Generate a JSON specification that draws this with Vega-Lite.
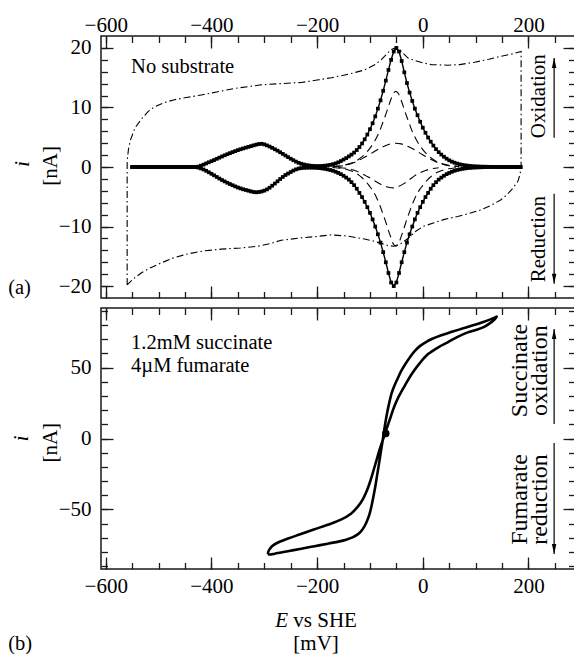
{
"$schema": "https://vega.github.io/schema/vega-lite/v6.json",
"background": "white",
"padding": {"left": 7, "top": 13, "right": 0, "bottom": 0},
"bounds": "flush",
"spacing": 10,
"config": {
  "view": {"stroke": "#1a1a1a", "strokeWidth": 1.5},
  "axis": {"grid": false, "domain": false, "tickColor": "#1a1a1a", "tickWidth": 1.3, "labelFont": "Liberation Serif, Times New Roman, serif", "labelFontSize": 21, "labelColor": "#000", "labelOverlap": false, "labelFlush": false, "labelBound": false},
  "text": {"font": "Liberation Serif, Times New Roman, serif", "color": "#000"}
},
"datasets": {
  "mainA": [
    {"b":"u","E":-550,"i":0},{"b":"u","E":-545,"i":0},{"b":"u","E":-540,"i":0},{"b":"u","E":-535,"i":0},{"b":"u","E":-530,"i":0},{"b":"u","E":-525,"i":0},{"b":"u","E":-520,"i":0},{"b":"u","E":-515,"i":0},{"b":"u","E":-510,"i":0},{"b":"u","E":-505,"i":0},{"b":"u","E":-500,"i":0},{"b":"u","E":-495,"i":0},{"b":"u","E":-490,"i":0},{"b":"u","E":-485,"i":0},{"b":"u","E":-480,"i":0},{"b":"u","E":-475,"i":0},{"b":"u","E":-470,"i":0},{"b":"u","E":-465,"i":0},{"b":"u","E":-460,"i":0},{"b":"u","E":-455,"i":0},{"b":"u","E":-450,"i":0},{"b":"u","E":-445,"i":0},{"b":"u","E":-440,"i":0},{"b":"u","E":-435,"i":0},{"b":"u","E":-430,"i":0},
    {"b":"u","E":-425,"i":0.06},{"b":"u","E":-420,"i":0.22},{"b":"u","E":-415,"i":0.4},{"b":"u","E":-410,"i":0.6},{"b":"u","E":-405,"i":0.79},{"b":"u","E":-400,"i":0.98},{"b":"u","E":-395,"i":1.17},{"b":"u","E":-390,"i":1.37},{"b":"u","E":-385,"i":1.57},{"b":"u","E":-380,"i":1.77},{"b":"u","E":-375,"i":1.96},{"b":"u","E":-370,"i":2.15},{"b":"u","E":-365,"i":2.33},{"b":"u","E":-360,"i":2.5},{"b":"u","E":-355,"i":2.67},{"b":"u","E":-350,"i":2.83},{"b":"u","E":-345,"i":2.98},{"b":"u","E":-340,"i":3.12},{"b":"u","E":-335,"i":3.25},{"b":"u","E":-330,"i":3.38},{"b":"u","E":-325,"i":3.51},{"b":"u","E":-320,"i":3.64},{"b":"u","E":-315,"i":3.76},{"b":"u","E":-310,"i":3.86},{"b":"u","E":-305,"i":3.9},{"b":"u","E":-300,"i":3.8},{"b":"u","E":-295,"i":3.63},{"b":"u","E":-290,"i":3.43},{"b":"u","E":-285,"i":3.21},{"b":"u","E":-280,"i":2.98},{"b":"u","E":-275,"i":2.74},{"b":"u","E":-270,"i":2.48},{"b":"u","E":-265,"i":2.21},{"b":"u","E":-260,"i":1.93},{"b":"u","E":-255,"i":1.66},{"b":"u","E":-250,"i":1.39},{"b":"u","E":-245,"i":1.14},{"b":"u","E":-240,"i":0.9},{"b":"u","E":-235,"i":0.7},{"b":"u","E":-230,"i":0.54},{"b":"u","E":-225,"i":0.42},{"b":"u","E":-220,"i":0.32},{"b":"u","E":-215,"i":0.25},{"b":"u","E":-210,"i":0.2},{"b":"u","E":-205,"i":0.17},{"b":"u","E":-200,"i":0.15},{"b":"u","E":-195,"i":0.16},{"b":"u","E":-190,"i":0.18},{"b":"u","E":-185,"i":0.22},{"b":"u","E":-180,"i":0.28},{"b":"u","E":-175,"i":0.36},{"b":"u","E":-170,"i":0.47},{"b":"u","E":-165,"i":0.6},{"b":"u","E":-160,"i":0.78},{"b":"u","E":-155,"i":1.0},{"b":"u","E":-150,"i":1.25},{"b":"u","E":-145,"i":1.5},{"b":"u","E":-140,"i":1.78},{"b":"u","E":-135,"i":2.08},{"b":"u","E":-130,"i":2.42},{"b":"u","E":-125,"i":2.85},{"b":"u","E":-120,"i":3.35},{"b":"u","E":-115,"i":3.95},{"b":"u","E":-110,"i":4.65},{"b":"u","E":-105,"i":5.45},{"b":"u","E":-100,"i":6.35},{"b":"u","E":-95,"i":7.35},{"b":"u","E":-90,"i":8.5},{"b":"u","E":-85,"i":9.8},{"b":"u","E":-80,"i":11.2},{"b":"u","E":-75,"i":12.8},{"b":"u","E":-70,"i":14.5},{"b":"u","E":-65,"i":16.3},{"b":"u","E":-60,"i":18.0},{"b":"u","E":-55,"i":19.4},{"b":"u","E":-50,"i":20.0},{"b":"u","E":-45,"i":19.4},{"b":"u","E":-40,"i":17.8},{"b":"u","E":-35,"i":15.9},{"b":"u","E":-30,"i":14.1},{"b":"u","E":-25,"i":12.5},{"b":"u","E":-20,"i":11.1},{"b":"u","E":-15,"i":9.8},{"b":"u","E":-10,"i":8.7},{"b":"u","E":-5,"i":7.6},{"b":"u","E":0,"i":6.6},{"b":"u","E":5,"i":5.75},{"b":"u","E":10,"i":4.95},{"b":"u","E":15,"i":4.25},{"b":"u","E":20,"i":3.6},{"b":"u","E":25,"i":3.0},{"b":"u","E":30,"i":2.5},{"b":"u","E":35,"i":2.08},{"b":"u","E":40,"i":1.72},{"b":"u","E":45,"i":1.4},{"b":"u","E":50,"i":1.12},{"b":"u","E":55,"i":0.9},{"b":"u","E":60,"i":0.72},{"b":"u","E":65,"i":0.57},{"b":"u","E":70,"i":0.45},{"b":"u","E":75,"i":0.36},{"b":"u","E":80,"i":0.28},{"b":"u","E":85,"i":0.22},{"b":"u","E":90,"i":0.17},{"b":"u","E":95,"i":0.13},{"b":"u","E":100,"i":0.1},{"b":"u","E":105,"i":0.08},{"b":"u","E":110,"i":0.06},{"b":"u","E":115,"i":0.05},{"b":"u","E":120,"i":0.04},{"b":"u","E":125,"i":0.03},{"b":"u","E":130,"i":0.02},{"b":"u","E":135,"i":0.02},{"b":"u","E":140,"i":0.01},{"b":"u","E":145,"i":0.01},{"b":"u","E":150,"i":0},{"b":"u","E":155,"i":0},{"b":"u","E":160,"i":0},{"b":"u","E":165,"i":0},{"b":"u","E":170,"i":0},{"b":"u","E":175,"i":0},{"b":"u","E":180,"i":0},{"b":"u","E":185,"i":0},
    {"b":"l","E":185,"i":0},{"b":"l","E":180,"i":0},{"b":"l","E":175,"i":0},{"b":"l","E":170,"i":0},{"b":"l","E":165,"i":0},{"b":"l","E":160,"i":0},{"b":"l","E":155,"i":0},{"b":"l","E":150,"i":0},{"b":"l","E":145,"i":0},{"b":"l","E":140,"i":0},{"b":"l","E":135,"i":0},{"b":"l","E":130,"i":0},{"b":"l","E":125,"i":0},{"b":"l","E":120,"i":-0.02},{"b":"l","E":115,"i":-0.03},{"b":"l","E":110,"i":-0.05},{"b":"l","E":105,"i":-0.06},{"b":"l","E":100,"i":-0.08},{"b":"l","E":95,"i":-0.1},{"b":"l","E":90,"i":-0.14},{"b":"l","E":85,"i":-0.18},{"b":"l","E":80,"i":-0.24},{"b":"l","E":75,"i":-0.31},{"b":"l","E":70,"i":-0.4},{"b":"l","E":65,"i":-0.5},{"b":"l","E":60,"i":-0.63},{"b":"l","E":55,"i":-0.8},{"b":"l","E":50,"i":-1.0},{"b":"l","E":45,"i":-1.2},{"b":"l","E":40,"i":-1.48},{"b":"l","E":35,"i":-1.78},{"b":"l","E":30,"i":-2.12},{"b":"l","E":25,"i":-2.55},{"b":"l","E":20,"i":-3.05},{"b":"l","E":15,"i":-3.65},{"b":"l","E":10,"i":-4.35},{"b":"l","E":5,"i":-5.05},{"b":"l","E":0,"i":-5.85},{"b":"l","E":-5,"i":-6.75},{"b":"l","E":-10,"i":-7.7},{"b":"l","E":-15,"i":-8.8},{"b":"l","E":-20,"i":-10.0},{"b":"l","E":-25,"i":-11.3},{"b":"l","E":-30,"i":-12.7},{"b":"l","E":-35,"i":-14.3},{"b":"l","E":-40,"i":-16.0},{"b":"l","E":-45,"i":-17.8},{"b":"l","E":-50,"i":-19.4},{"b":"l","E":-55,"i":-20.0},{"b":"l","E":-60,"i":-19.4},{"b":"l","E":-65,"i":-17.8},{"b":"l","E":-70,"i":-16.0},{"b":"l","E":-75,"i":-14.3},{"b":"l","E":-80,"i":-12.7},{"b":"l","E":-85,"i":-11.3},{"b":"l","E":-90,"i":-10.0},{"b":"l","E":-95,"i":-8.8},{"b":"l","E":-100,"i":-7.7},{"b":"l","E":-105,"i":-6.75},{"b":"l","E":-110,"i":-5.85},{"b":"l","E":-115,"i":-5.05},{"b":"l","E":-120,"i":-4.35},{"b":"l","E":-125,"i":-3.65},{"b":"l","E":-130,"i":-3.05},{"b":"l","E":-135,"i":-2.55},{"b":"l","E":-140,"i":-2.12},{"b":"l","E":-145,"i":-1.78},{"b":"l","E":-150,"i":-1.48},{"b":"l","E":-155,"i":-1.2},{"b":"l","E":-160,"i":-1.0},{"b":"l","E":-165,"i":-0.8},{"b":"l","E":-170,"i":-0.63},{"b":"l","E":-175,"i":-0.5},{"b":"l","E":-180,"i":-0.4},{"b":"l","E":-185,"i":-0.31},{"b":"l","E":-190,"i":-0.24},{"b":"l","E":-195,"i":-0.18},{"b":"l","E":-200,"i":-0.14},{"b":"l","E":-205,"i":-0.12},{"b":"l","E":-210,"i":-0.11},{"b":"l","E":-215,"i":-0.11},{"b":"l","E":-220,"i":-0.12},{"b":"l","E":-225,"i":-0.14},{"b":"l","E":-230,"i":-0.18},{"b":"l","E":-235,"i":-0.26},{"b":"l","E":-240,"i":-0.4},{"b":"l","E":-245,"i":-0.6},{"b":"l","E":-250,"i":-0.85},{"b":"l","E":-255,"i":-1.1},{"b":"l","E":-260,"i":-1.35},{"b":"l","E":-265,"i":-1.68},{"b":"l","E":-270,"i":-2.02},{"b":"l","E":-275,"i":-2.4},{"b":"l","E":-280,"i":-2.78},{"b":"l","E":-285,"i":-3.14},{"b":"l","E":-290,"i":-3.48},{"b":"l","E":-295,"i":-3.76},{"b":"l","E":-300,"i":-3.97},{"b":"l","E":-305,"i":-4.11},{"b":"l","E":-310,"i":-4.2},{"b":"l","E":-315,"i":-4.25},{"b":"l","E":-320,"i":-4.2},{"b":"l","E":-325,"i":-4.1},{"b":"l","E":-330,"i":-3.98},{"b":"l","E":-335,"i":-3.86},{"b":"l","E":-340,"i":-3.74},{"b":"l","E":-345,"i":-3.6},{"b":"l","E":-350,"i":-3.44},{"b":"l","E":-355,"i":-3.26},{"b":"l","E":-360,"i":-3.06},{"b":"l","E":-365,"i":-2.86},{"b":"l","E":-370,"i":-2.65},{"b":"l","E":-375,"i":-2.42},{"b":"l","E":-380,"i":-2.19},{"b":"l","E":-385,"i":-1.94},{"b":"l","E":-390,"i":-1.67},{"b":"l","E":-395,"i":-1.4},{"b":"l","E":-400,"i":-1.14},{"b":"l","E":-405,"i":-0.88},{"b":"l","E":-410,"i":-0.64},{"b":"l","E":-415,"i":-0.42},{"b":"l","E":-420,"i":-0.24},{"b":"l","E":-425,"i":-0.1},{"b":"l","E":-430,"i":-0.02},{"b":"l","E":-435,"i":0},{"b":"l","E":-440,"i":0},{"b":"l","E":-445,"i":0},{"b":"l","E":-450,"i":0},{"b":"l","E":-455,"i":0},{"b":"l","E":-460,"i":0},{"b":"l","E":-465,"i":0},{"b":"l","E":-470,"i":0},{"b":"l","E":-475,"i":0},{"b":"l","E":-480,"i":0},{"b":"l","E":-485,"i":0},{"b":"l","E":-490,"i":0},{"b":"l","E":-495,"i":0},{"b":"l","E":-500,"i":0},{"b":"l","E":-505,"i":0},{"b":"l","E":-510,"i":0},{"b":"l","E":-515,"i":0},{"b":"l","E":-520,"i":0},{"b":"l","E":-525,"i":0},{"b":"l","E":-530,"i":0},{"b":"l","E":-535,"i":0},{"b":"l","E":-540,"i":0},{"b":"l","E":-545,"i":0},{"b":"l","E":-550,"i":0}
  ],
  "dd": [
    {"o":0,"E":-559.5,"i":-19.8},{"o":1,"E":-559.5,"i":1.0},{"o":2,"E":-557,"i":3.0},{"o":3,"E":-553,"i":4.6},{"o":4,"E":-545,"i":6.5},{"o":5,"E":-533,"i":8.0},{"o":6,"E":-520,"i":9.3},{"o":7,"E":-508,"i":10.1},{"o":8,"E":-490,"i":10.8},{"o":9,"E":-470,"i":11.3},{"o":10,"E":-445,"i":11.7},{"o":11,"E":-419,"i":12.1},{"o":12,"E":-390,"i":12.6},{"o":13,"E":-356,"i":13.2},{"o":14,"E":-330,"i":13.5},{"o":15,"E":-306,"i":13.8},{"o":16,"E":-270,"i":14.0},{"o":17,"E":-230,"i":14.2},{"o":18,"E":-200,"i":14.6},{"o":19,"E":-173,"i":15.0},{"o":20,"E":-140,"i":15.6},{"o":21,"E":-110,"i":16.3},{"o":22,"E":-90,"i":17.2},{"o":23,"E":-79,"i":18.0},{"o":24,"E":-68,"i":19.0},{"o":25,"E":-60,"i":19.7},{"o":26,"E":-52,"i":20.0},{"o":27,"E":-44,"i":19.7},{"o":28,"E":-36,"i":19.0},{"o":29,"E":-28,"i":18.3},{"o":30,"E":-16,"i":17.9},{"o":31,"E":0,"i":17.5},{"o":32,"E":16,"i":17.2},{"o":33,"E":47,"i":17.1},{"o":34,"E":70,"i":17.2},{"o":35,"E":98,"i":17.6},{"o":36,"E":125,"i":18.1},{"o":37,"E":148,"i":18.6},{"o":38,"E":170,"i":19.0},{"o":39,"E":186,"i":19.4},
    {"o":40,"E":186,"i":0},{"o":41,"E":184,"i":-1.2},{"o":42,"E":180,"i":-2.4},{"o":43,"E":170,"i":-3.6},{"o":44,"E":160,"i":-4.6},{"o":45,"E":148,"i":-5.5},{"o":46,"E":130,"i":-6.4},{"o":47,"E":110,"i":-7.2},{"o":48,"E":88,"i":-7.8},{"o":49,"E":66,"i":-8.3},{"o":50,"E":41,"i":-8.8},{"o":51,"E":20,"i":-9.4},{"o":52,"E":0,"i":-10.0},{"o":53,"E":-15,"i":-10.9},{"o":54,"E":-28,"i":-12.0},{"o":55,"E":-42,"i":-12.9},{"o":56,"E":-55,"i":-13.3},{"o":57,"E":-65,"i":-13.2},{"o":58,"E":-80,"i":-12.8},{"o":59,"E":-95,"i":-12.4},{"o":60,"E":-110,"i":-12.1},{"o":61,"E":-142,"i":-11.6},{"o":62,"E":-173,"i":-11.4},{"o":63,"E":-205,"i":-11.7},{"o":64,"E":-230,"i":-11.9},{"o":65,"E":-268,"i":-12.3},{"o":66,"E":-290,"i":-12.9},{"o":67,"E":-312,"i":-13.3},{"o":68,"E":-345,"i":-13.6},{"o":69,"E":-382,"i":-13.8},{"o":70,"E":-415,"i":-14.1},{"o":71,"E":-445,"i":-14.6},{"o":72,"E":-470,"i":-15.2},{"o":73,"E":-495,"i":-16.1},{"o":74,"E":-515,"i":-16.9},{"o":75,"E":-533,"i":-17.8},{"o":76,"E":-548,"i":-18.8},{"o":77,"E":-559.5,"i":-19.8}
  ],
  "dash": [
    {"s":"a+","E":-171,"i":0.07},{"s":"a+","E":-161,"i":0.15},{"s":"a+","E":-151,"i":0.28},{"s":"a+","E":-141,"i":0.48},{"s":"a+","E":-131,"i":0.78},{"s":"a+","E":-126,"i":1.0},{"s":"a+","E":-121,"i":1.3},{"s":"a+","E":-116,"i":1.65},{"s":"a+","E":-111,"i":2.05},{"s":"a+","E":-106,"i":2.5},{"s":"a+","E":-101,"i":3.05},{"s":"a+","E":-96,"i":3.65},{"s":"a+","E":-91,"i":4.35},{"s":"a+","E":-86,"i":5.2},{"s":"a+","E":-81,"i":6.2},{"s":"a+","E":-76,"i":7.4},{"s":"a+","E":-71,"i":8.6},{"s":"a+","E":-66,"i":9.9},{"s":"a+","E":-61,"i":11.2},{"s":"a+","E":-56,"i":12.3},{"s":"a+","E":-51,"i":12.7},{"s":"a+","E":-46,"i":12.3},{"s":"a+","E":-41,"i":11.2},{"s":"a+","E":-36,"i":9.9},{"s":"a+","E":-31,"i":8.6},{"s":"a+","E":-26,"i":7.4},{"s":"a+","E":-21,"i":6.2},{"s":"a+","E":-16,"i":5.2},{"s":"a+","E":-11,"i":4.35},{"s":"a+","E":-6,"i":3.65},{"s":"a+","E":-1,"i":3.05},{"s":"a+","E":4,"i":2.5},{"s":"a+","E":9,"i":2.05},{"s":"a+","E":14,"i":1.65},{"s":"a+","E":19,"i":1.3},{"s":"a+","E":24,"i":1.0},{"s":"a+","E":29,"i":0.78},{"s":"a+","E":39,"i":0.48},{"s":"a+","E":49,"i":0.28},{"s":"a+","E":59,"i":0.15},{"s":"a+","E":69,"i":0.07},
    {"s":"a-","E":-171,"i":-0.07},{"s":"a-","E":-161,"i":-0.16},{"s":"a-","E":-151,"i":-0.3},{"s":"a-","E":-141,"i":-0.5},{"s":"a-","E":-131,"i":-0.82},{"s":"a-","E":-126,"i":-1.05},{"s":"a-","E":-121,"i":-1.36},{"s":"a-","E":-116,"i":-1.72},{"s":"a-","E":-111,"i":-2.15},{"s":"a-","E":-106,"i":-2.62},{"s":"a-","E":-101,"i":-3.2},{"s":"a-","E":-96,"i":-3.8},{"s":"a-","E":-91,"i":-4.55},{"s":"a-","E":-86,"i":-5.45},{"s":"a-","E":-81,"i":-6.5},{"s":"a-","E":-76,"i":-7.75},{"s":"a-","E":-71,"i":-9.0},{"s":"a-","E":-66,"i":-10.4},{"s":"a-","E":-61,"i":-11.7},{"s":"a-","E":-56,"i":-12.9},{"s":"a-","E":-51,"i":-13.3},{"s":"a-","E":-46,"i":-12.9},{"s":"a-","E":-41,"i":-11.7},{"s":"a-","E":-36,"i":-10.4},{"s":"a-","E":-31,"i":-9.0},{"s":"a-","E":-26,"i":-7.75},{"s":"a-","E":-21,"i":-6.5},{"s":"a-","E":-16,"i":-5.45},{"s":"a-","E":-11,"i":-4.55},{"s":"a-","E":-6,"i":-3.8},{"s":"a-","E":-1,"i":-3.2},{"s":"a-","E":4,"i":-2.62},{"s":"a-","E":9,"i":-2.15},{"s":"a-","E":14,"i":-1.72},{"s":"a-","E":19,"i":-1.36},{"s":"a-","E":24,"i":-1.05},{"s":"a-","E":29,"i":-0.82},{"s":"a-","E":39,"i":-0.5},{"s":"a-","E":49,"i":-0.3},{"s":"a-","E":59,"i":-0.16},{"s":"a-","E":69,"i":-0.07},
    {"s":"b+","E":-166,"i":0.08},{"s":"b+","E":-151,"i":0.22},{"s":"b+","E":-141,"i":0.42},{"s":"b+","E":-131,"i":0.72},{"s":"b+","E":-121,"i":1.12},{"s":"b+","E":-111,"i":1.6},{"s":"b+","E":-101,"i":2.1},{"s":"b+","E":-91,"i":2.65},{"s":"b+","E":-81,"i":3.15},{"s":"b+","E":-71,"i":3.58},{"s":"b+","E":-61,"i":3.88},{"s":"b+","E":-51,"i":4.0},{"s":"b+","E":-41,"i":3.88},{"s":"b+","E":-31,"i":3.58},{"s":"b+","E":-21,"i":3.15},{"s":"b+","E":-11,"i":2.65},{"s":"b+","E":-1,"i":2.1},{"s":"b+","E":9,"i":1.6},{"s":"b+","E":19,"i":1.12},{"s":"b+","E":29,"i":0.72},{"s":"b+","E":39,"i":0.42},{"s":"b+","E":49,"i":0.22},{"s":"b+","E":64,"i":0.08},
    {"s":"b-","E":-160,"i":-0.08},{"s":"b-","E":-145,"i":-0.22},{"s":"b-","E":-135,"i":-0.42},{"s":"b-","E":-125,"i":-0.72},{"s":"b-","E":-115,"i":-1.12},{"s":"b-","E":-105,"i":-1.6},{"s":"b-","E":-95,"i":-2.1},{"s":"b-","E":-85,"i":-2.65},{"s":"b-","E":-75,"i":-3.1},{"s":"b-","E":-65,"i":-3.4},{"s":"b-","E":-55,"i":-3.5},{"s":"b-","E":-45,"i":-3.25},{"s":"b-","E":-35,"i":-2.75},{"s":"b-","E":-25,"i":-2.1},{"s":"b-","E":-15,"i":-1.45},{"s":"b-","E":-5,"i":-0.95},{"s":"b-","E":5,"i":-0.58},{"s":"b-","E":15,"i":-0.32},{"s":"b-","E":30,"i":-0.12}
  ],
  "txtA1": [{"E":-552,"i":16.8,"t":"No substrate"},{"E":-784.7,"i":-20.3,"t":"(a)"}],
  "txtA2": [{"E":-703,"i":0.2,"t":"[nA]"},{"E":219,"i":11.9,"t":"Oxidation"},{"E":219,"i":-12.1,"t":"Reduction"}],
  "txtA3": [{"E":-758,"i":0.5,"t":"i"}],
  "arrA": [{"E":248.5,"i1":4.9,"i":18.3,"dir":"up"},{"E":248.5,"i1":-4.5,"i":-19.6,"dir":"down"}],
  "loop": [
    {"o":0,"E":-293,"i":-81.6},{"o":1,"E":-289,"i":-81.8},{"o":2,"E":-280,"i":-81.2},{"o":3,"E":-268,"i":-80.3},{"o":4,"E":-250,"i":-79.1},{"o":5,"E":-230,"i":-77.7},{"o":6,"E":-205,"i":-75.9},{"o":7,"E":-180,"i":-74.2},{"o":8,"E":-160,"i":-72.7},{"o":9,"E":-145,"i":-71.3},{"o":10,"E":-133,"i":-69.7},{"o":11,"E":-124,"i":-67.8},{"o":12,"E":-117,"i":-65.4},{"o":13,"E":-111,"i":-62.3},{"o":14,"E":-106,"i":-58.5},{"o":15,"E":-101,"i":-53.5},{"o":16,"E":-97,"i":-47.5},{"o":17,"E":-93.5,"i":-41},{"o":18,"E":-90,"i":-34},{"o":19,"E":-86.5,"i":-26},{"o":20,"E":-83,"i":-18},{"o":21,"E":-79.5,"i":-9.5},{"o":22,"E":-76,"i":-1.5},{"o":23,"E":-73,"i":6},{"o":24,"E":-70,"i":13},{"o":25,"E":-66.5,"i":20},{"o":26,"E":-63,"i":26},{"o":27,"E":-59,"i":32},{"o":28,"E":-54,"i":37},{"o":29,"E":-48,"i":42},{"o":30,"E":-41,"i":47.5},{"o":31,"E":-33,"i":52.5},{"o":32,"E":-24,"i":57.5},{"o":33,"E":-15,"i":61.8},{"o":34,"E":-5,"i":65.3},{"o":35,"E":6,"i":68},{"o":36,"E":18,"i":70.3},{"o":37,"E":35,"i":72.8},{"o":38,"E":55,"i":75.2},{"o":39,"E":75,"i":77.5},{"o":40,"E":95,"i":79.8},{"o":41,"E":113,"i":82},{"o":42,"E":128,"i":84},{"o":43,"E":137,"i":85.4},{"o":44,"E":140,"i":86},
    {"o":45,"E":136,"i":84},{"o":46,"E":128,"i":81.5},{"o":47,"E":115,"i":78.5},{"o":48,"E":100,"i":76.5},{"o":49,"E":85,"i":74.8},{"o":50,"E":65,"i":71.5},{"o":51,"E":47,"i":67.8},{"o":52,"E":30,"i":64.5},{"o":53,"E":10,"i":59.5},{"o":54,"E":-5,"i":53.5},{"o":55,"E":-20,"i":46},{"o":56,"E":-33,"i":38},{"o":57,"E":-45,"i":30},{"o":58,"E":-54,"i":22.5},{"o":59,"E":-61,"i":15},{"o":60,"E":-67,"i":8.5},{"o":61,"E":-72,"i":3},{"o":62,"E":-77,"i":-2.5},{"o":63,"E":-82,"i":-8},{"o":64,"E":-87,"i":-14.5},{"o":65,"E":-92.5,"i":-21.5},{"o":66,"E":-98.5,"i":-29},{"o":67,"E":-105,"i":-36},{"o":68,"E":-113,"i":-42.5},{"o":69,"E":-123,"i":-48},{"o":70,"E":-136,"i":-53},{"o":71,"E":-155,"i":-57.2},{"o":72,"E":-180,"i":-60.8},{"o":73,"E":-205,"i":-64},{"o":74,"E":-232,"i":-67.5},{"o":75,"E":-255,"i":-70.5},{"o":76,"E":-271,"i":-72.8},{"o":77,"E":-282,"i":-75},{"o":78,"E":-289,"i":-77.5},{"o":79,"E":-292.5,"i":-80},{"o":80,"E":-293,"i":-81.6}
  ],
  "dot": [{"E":-70,"i":3.5}],
  "txtB1": [{"E":-552,"i":67.5,"t":"1.2mM succinate"},{"E":-552,"i":51.1,"t":"4µM fumarate"},{"E":-784.7,"i":-145.2,"t":"(b)"}],
  "txtB2": [{"E":184,"i":47.9,"t":"Succinate\noxidation"},{"E":184,"i":-43,"t":"Fumarate\nreduction"}],
  "txtB2a": [{"E":-703,"i":-3,"t":"[nA]"}],
  "txtB3": [{"E":-760,"i":0,"t":"i"}],
  "txtB4": [{"E":-245,"i":-128.7,"t":"vs SHE"},{"E":-245,"i":-144.6,"t":"[mV]"}],
  "txtB5": [{"E":-255,"i":-128.7,"t":"E"}],
  "arrB": [{"E":248.5,"i1":10.2,"i":77.2,"dir":"up"},{"E":248.5,"i1":-3.2,"i":-81.4,"dir":"down"}]
},
"vconcat": [
  {
    "width": 474, "height": 262,
    "encoding": {
      "x": {"field": "E", "type": "quantitative", "scale": {"domain": [-609, 288], "nice": false}, "axis": null},
      "y": {"field": "i", "type": "quantitative", "scale": {"domain": [-22, 22], "nice": false}, "axis": null}
    },
    "layer": [
      {"data": {"name": "dd"}, "mark": {"type": "line", "strokeWidth": 1.1, "strokeDash": [7, 3, 1.5, 3], "color": "#000"},
       "encoding": {
         "x": {"field": "E", "type": "quantitative", "scale": {"domain": [-609, 288], "nice": false}, "axis": {"orient": "top", "title": null, "values": [-600, -400, -200, 0, 200], "tickSize": -12, "labelPadding": 13, "labelFont": "Liberation Serif, Times New Roman, serif", "labelFontSize": 21}},
         "y": {"field": "i", "type": "quantitative", "scale": {"domain": [-22, 22], "nice": false}, "axis": {"orient": "left", "title": null, "values": [-20, -10, 0, 10, 20], "tickSize": -12, "labelPadding": 22, "labelFont": "Liberation Serif, Times New Roman, serif", "labelFontSize": 21}},
         "order": {"field": "o", "type": "quantitative"}}},
      {"data": {"name": "dash"}, "mark": {"type": "line", "strokeWidth": 1.1, "strokeDash": [8, 5], "color": "#000", "interpolate": "monotone"},
       "encoding": {
         "x": {"field": "E", "type": "quantitative", "scale": {"domain": [-609, 288], "nice": false}, "axis": {"orient": "bottom", "title": null, "values": [-600, -400, -200, 0, 200], "tickSize": -12, "labels": false}},
         "y": {"field": "i", "type": "quantitative", "scale": {"domain": [-22, 22], "nice": false}, "axis": {"orient": "right", "title": null, "values": [-20, -10, 0, 10, 20], "tickSize": -12, "labels": false}},
         "detail": {"field": "s"}}},
      {"data": {"name": "mainA"}, "mark": {"type": "line", "strokeWidth": 1.4, "color": "#000"},
       "encoding": {
         "x": {"field": "E", "type": "quantitative", "scale": {"domain": [-609, 288], "nice": false}, "axis": {"orient": "top", "title": null, "values": [-600, -550, -500, -450, -400, -350, -300, -250, -200, -150, -100, -50, 0, 50, 100, 150, 200, 250], "tickSize": -6.5, "labels": false}},
         "y": {"field": "i", "type": "quantitative", "scale": {"domain": [-22, 22], "nice": false}, "axis": {"orient": "left", "title": null, "values": [-20, -18, -16, -14, -12, -10, -8, -6, -4, -2, 0, 2, 4, 6, 8, 10, 12, 14, 16, 18, 20], "tickSize": -6.5, "labels": false}},
         "detail": {"field": "b"}}},
      {"data": {"name": "mainA"}, "mark": {"type": "point", "shape": "square", "filled": true, "size": 14, "color": "#000", "opacity": 1},
       "encoding": {
         "x": {"field": "E", "type": "quantitative", "scale": {"domain": [-609, 288], "nice": false}, "axis": {"orient": "bottom", "title": null, "values": [-600, -550, -500, -450, -400, -350, -300, -250, -200, -150, -100, -50, 0, 50, 100, 150, 200, 250], "tickSize": -6.5, "labels": false}},
         "y": {"field": "i", "type": "quantitative", "scale": {"domain": [-22, 22], "nice": false}, "axis": {"orient": "right", "title": null, "values": [-20, -18, -16, -14, -12, -10, -8, -6, -4, -2, 0, 2, 4, 6, 8, 10, 12, 14, 16, 18, 20], "tickSize": -6.5, "labels": false}}}},
      {"data": {"name": "txtA1"}, "mark": {"type": "text", "align": "left", "baseline": "middle", "fontSize": 20.5},
       "encoding": {"text": {"field": "t"}}},
      {"data": {"name": "txtA2"}, "mark": {"type": "text", "align": "center", "baseline": "middle", "angle": 270, "fontSize": 21},
       "encoding": {"text": {"field": "t"}}},
      {"data": {"name": "txtA3"}, "mark": {"type": "text", "align": "center", "baseline": "middle", "angle": 270, "fontSize": 22, "fontStyle": "italic"},
       "encoding": {"text": {"field": "t"}}},
      {"data": {"name": "arrA"}, "mark": {"type": "rule", "strokeWidth": 1.2, "color": "#000"},
       "encoding": {"y": {"field": "i1", "type": "quantitative", "scale": {"domain": [-22, 22], "nice": false}, "axis": null}, "y2": {"field": "i"}}},
      {"data": {"name": "arrA"}, "mark": {"type": "point", "filled": true, "size": 156, "color": "#000", "opacity": 1, "strokeWidth": 0},
       "encoding": {"shape": {"field": "dir", "type": "nominal", "scale": {"domain": ["up", "down"], "range": ["M0,0L0.36,1.6L-0.36,1.6Z", "M0,0L0.36,-1.6L-0.36,-1.6Z"]}, "legend": null}}}
    ],
    "resolve": {"axis": {"x": "independent", "y": "independent"}}
  },
  {
    "width": 474, "height": 261,
    "encoding": {
      "x": {"field": "E", "type": "quantitative", "scale": {"domain": [-609, 288], "nice": false}, "axis": null},
      "y": {"field": "i", "type": "quantitative", "scale": {"domain": [-92, 92], "nice": false}, "axis": null}
    },
    "layer": [
      {"data": {"name": "loop"}, "mark": {"type": "line", "strokeWidth": 2.6, "color": "#000", "interpolate": "catmull-rom"},
       "encoding": {
         "x": {"field": "E", "type": "quantitative", "scale": {"domain": [-609, 288], "nice": false}, "axis": {"orient": "bottom", "title": null, "values": [-600, -400, -200, 0, 200], "tickSize": -12, "labelPadding": 18, "labelFont": "Liberation Serif, Times New Roman, serif", "labelFontSize": 21}},
         "y": {"field": "i", "type": "quantitative", "scale": {"domain": [-92, 92], "nice": false}, "axis": {"orient": "left", "title": null, "values": [-50, 0, 50], "tickSize": -12, "labelPadding": 22, "labelFont": "Liberation Serif, Times New Roman, serif", "labelFontSize": 21}},
         "order": {"field": "o", "type": "quantitative"}}},
      {"data": {"name": "dot"}, "mark": {"type": "point", "shape": "circle", "filled": true, "size": 55, "color": "#000", "opacity": 1},
       "encoding": {
         "x": {"field": "E", "type": "quantitative", "scale": {"domain": [-609, 288], "nice": false}, "axis": {"orient": "top", "title": null, "values": [-600, -400, -200, 0, 200], "tickSize": -12, "labels": false}},
         "y": {"field": "i", "type": "quantitative", "scale": {"domain": [-92, 92], "nice": false}, "axis": {"orient": "right", "title": null, "values": [-50, 0, 50], "tickSize": -12, "labels": false}}}},
      {"data": {"name": "txtB1"}, "mark": {"type": "text", "align": "left", "baseline": "middle", "fontSize": 20.5},
       "encoding": {
         "x": {"field": "E", "type": "quantitative", "scale": {"domain": [-609, 288], "nice": false}, "axis": {"orient": "bottom", "title": null, "values": [-600, -550, -500, -450, -400, -350, -300, -250, -200, -150, -100, -50, 0, 50, 100, 150, 200, 250], "tickSize": -6.5, "labels": false}},
         "y": {"field": "i", "type": "quantitative", "scale": {"domain": [-92, 92], "nice": false}, "axis": {"orient": "left", "title": null, "values": [-90, -80, -70, -60, -50, -40, -30, -20, -10, 0, 10, 20, 30, 40, 50, 60, 70, 80, 90], "tickSize": -6.5, "labels": false}},
         "text": {"field": "t"}}},
      {"data": {"name": "txtB2"}, "mark": {"type": "text", "align": "center", "baseline": "middle", "angle": 270, "fontSize": 24, "lineBreak": "\n", "lineHeight": 20},
       "encoding": {
         "x": {"field": "E", "type": "quantitative", "scale": {"domain": [-609, 288], "nice": false}, "axis": {"orient": "top", "title": null, "values": [-600, -550, -500, -450, -400, -350, -300, -250, -200, -150, -100, -50, 0, 50, 100, 150, 200, 250], "tickSize": -6.5, "labels": false}},
         "y": {"field": "i", "type": "quantitative", "scale": {"domain": [-92, 92], "nice": false}, "axis": {"orient": "right", "title": null, "values": [-90, -80, -70, -60, -50, -40, -30, -20, -10, 0, 10, 20, 30, 40, 50, 60, 70, 80, 90], "tickSize": -6.5, "labels": false}},
         "text": {"field": "t"}}},
      {"data": {"name": "txtB2a"}, "mark": {"type": "text", "align": "center", "baseline": "middle", "angle": 270, "fontSize": 21},
       "encoding": {"text": {"field": "t"}}},
      {"data": {"name": "txtB3"}, "mark": {"type": "text", "align": "center", "baseline": "middle", "angle": 270, "fontSize": 22, "fontStyle": "italic"},
       "encoding": {"text": {"field": "t"}}},
      {"data": {"name": "txtB4"}, "mark": {"type": "text", "align": "left", "baseline": "middle", "fontSize": 21},
       "encoding": {"text": {"field": "t"}}},
      {"data": {"name": "txtB5"}, "mark": {"type": "text", "align": "right", "baseline": "middle", "fontSize": 21, "fontStyle": "italic"},
       "encoding": {"text": {"field": "t"}}},
      {"data": {"name": "arrB"}, "mark": {"type": "rule", "strokeWidth": 1.2, "color": "#000"},
       "encoding": {"y": {"field": "i1", "type": "quantitative", "scale": {"domain": [-92, 92], "nice": false}, "axis": null}, "y2": {"field": "i"}}},
      {"data": {"name": "arrB"}, "mark": {"type": "point", "filled": true, "size": 156, "color": "#000", "opacity": 1, "strokeWidth": 0},
       "encoding": {"shape": {"field": "dir", "type": "nominal", "scale": {"domain": ["up", "down"], "range": ["M0,0L0.36,1.6L-0.36,1.6Z", "M0,0L0.36,-1.6L-0.36,-1.6Z"]}, "legend": null}}}
    ],
    "resolve": {"axis": {"x": "independent", "y": "independent"}}
  }
]
}
